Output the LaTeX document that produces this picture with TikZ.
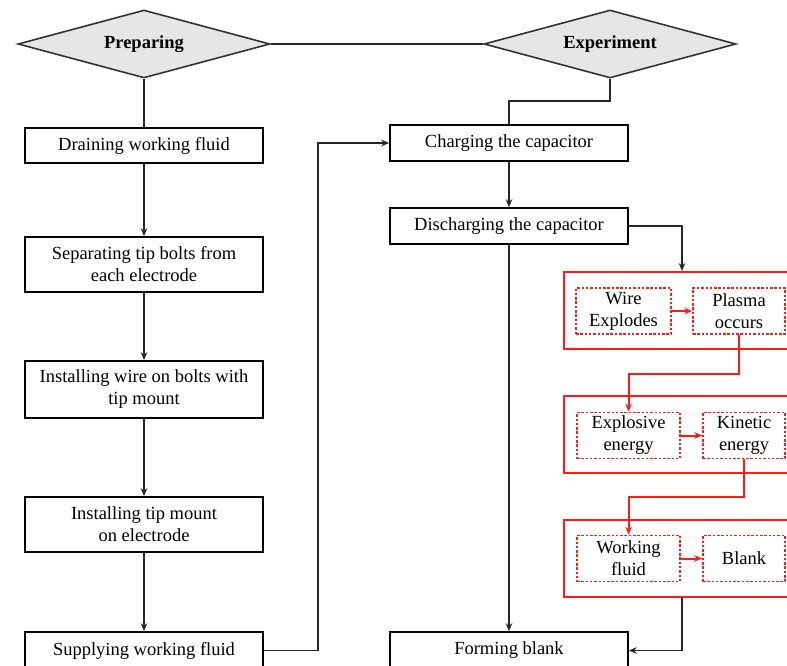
\documentclass[tikz,border=0pt]{standalone}
\usepackage{fontspec}
\setmainfont{Liberation Serif}
\usetikzlibrary{shapes.geometric,arrows.meta}
\definecolor{dgray}{HTML}{E6E6E6}
\definecolor{myred}{HTML}{FF1A1A}
\begin{document}
\begin{tikzpicture}[x=1pt,y=-1pt,
  every node/.style={font=\fontsize{18.5}{22}\selectfont},
  dia/.style={diamond,draw=black!80,fill=dgray,line width=1.6pt,inner sep=0pt,aspect=3.7,minimum width=252pt,minimum height=68pt,font=\fontsize{18.5}{22}\selectfont\bfseries},
  stepbox/.style={draw=black,line width=1.6pt,minimum width=238pt,align=center,inner sep=0pt},
  redbox/.style={draw=myred,line width=2pt,minimum width=236pt,minimum height=77pt,inner sep=0pt},
  subbox/.style={draw=myred,line width=1.6pt,dash pattern=on 2.5pt off 1.8pt,align=center,inner sep=0pt,minimum height=46pt},
  conn/.style={draw=black!85,line width=1.6pt},
  arr/.style={conn,-{Stealth[length=8pt,width=6.5pt]}},
  rarr/.style={draw=myred,line width=2pt,-{Stealth[length=8pt,width=6.5pt]}}
]
\useasboundingbox (0,0) rectangle (787,666);
\clip (0,0) rectangle (787,666);
\fill[white] (0,0) rectangle (787,666);

\node[dia] (prep) at (144,44) {Preparing};
\node[dia] (exp) at (610,44) {Experiment};

\node[stepbox,minimum height=35pt] (drain) at (144,145.5) {Draining working fluid};
\node[stepbox,minimum height=55pt] (sep) at (144,264.5) {Separating tip bolts from\\each electrode};
\node[stepbox,minimum height=57pt] (wire) at (144,389.5) {Installing wire on bolts with\\tip mount};
\node[stepbox,minimum height=55pt] (tip) at (144,524.5) {Installing tip mount\\on electrode};
\node[stepbox,minimum height=37pt] (supp) at (144,650.5) {Supplying working fluid};

\node[stepbox,minimum height=36pt] (charge) at (509,143) {Charging the capacitor};
\node[stepbox,minimum height=36pt] (dis) at (509,226) {Discharging the capacitor};
\node[stepbox,minimum height=37pt] (form) at (509,650.5) {Forming blank};

\node[redbox] (r1) at (682,310.5) {};
\node[redbox] (r2) at (682,434) {};
\node[redbox] (r3) at (682,558) {};

\node[subbox,minimum width=95pt] (we) at (623.5,311) {Wire\\Explodes};
\node[subbox,minimum width=92pt] (pl) at (739,311) {Plasma\\occurs};
\node[subbox,minimum width=103pt] (ex) at (628.5,435.5) {Explosive\\energy};
\node[subbox,minimum width=82pt] (ki) at (744,435.5) {Kinetic\\energy};
\node[subbox,minimum width=103pt] (wf) at (628.5,558.5) {Working\\fluid};
\node[subbox,minimum width=82pt] (bl) at (744,558.5) {Blank};

% black connectors
\draw[conn] (prep.east) -- (exp.west);
\draw[conn] (prep.south) -- (drain.north);
\draw[arr] (drain.south) -- (sep.north);
\draw[arr] (sep.south) -- (wire.north);
\draw[arr] (wire.south) -- (tip.north);
\draw[arr] (tip.south) -- (supp.north);
\draw[arr] (supp.east) -- (318,650.5) |- (charge.west);
\draw[conn] (exp.south) -- (610,101) -| (charge.north);
\draw[arr] (charge.south) -- (dis.north);
\draw[arr] (dis.east) -| (r1.north);
\draw[arr] (dis.south) -- (form.north);
\draw[arr] (r3.south) |- (form.east);

% red connectors
\draw[rarr] (we.east) -- (pl.west);
\draw[rarr] (ex.east) -- (ki.west);
\draw[rarr] (wf.east) -- (bl.west);
\draw[rarr] (pl.south) -- ++(0,39) -| (ex.north);
\draw[rarr] (ki.south) -- ++(0,38) -| (wf.north);
\end{tikzpicture}
\end{document}
